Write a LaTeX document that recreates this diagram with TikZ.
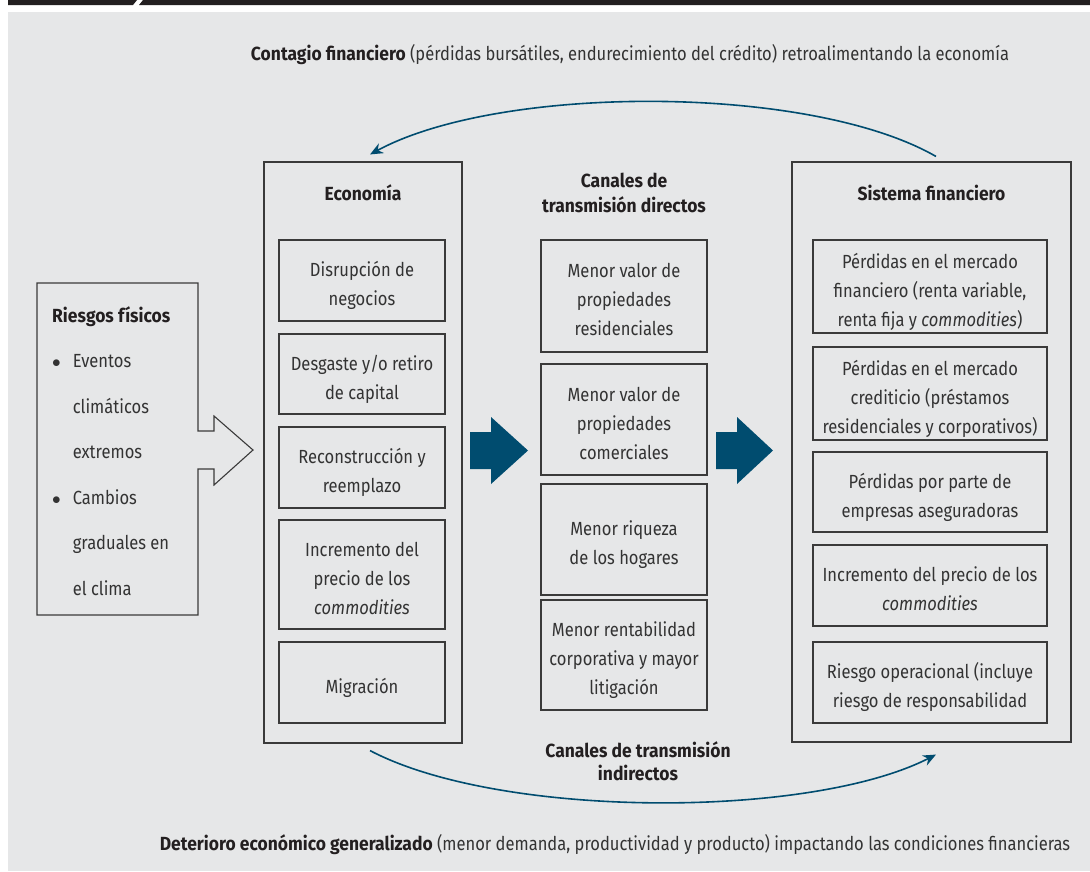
\documentclass[tikz,border=0pt]{standalone}
\usepackage{fontspec}
\setmainfont{Fira Sans}[FakeStretch=0.87,BoldFeatures={FakeStretch=0.92}]
\usetikzlibrary{arrows.meta}
\definecolor{fondo}{HTML}{E6E7E8}
\definecolor{azul}{HTML}{004C6F}
\definecolor{linea}{HTML}{3A3A3A}
\definecolor{texto}{HTML}{333333}
\definecolor{barra}{HTML}{231F20}
\newcommand{\alto}{\rule{0pt}{26pt}}
\newcommand{\bajo}{\rule[-5pt]{0pt}{5pt}}

\begin{document}
\begin{tikzpicture}[x=1pt,y=-1pt,
    caja/.style={draw=linea,line width=1.1pt,inner sep=0pt},
    cajita/.style={caja,text=texto,align=center,font=\fontsize{19}{29}\selectfont},
    titulo/.style={font=\bfseries\fontsize{19}{25}\selectfont,text=barra,align=center},
    curva/.style={azul,line width=1.6pt,-{Stealth[length=13pt,width=11pt]}}]
\useasboundingbox (0,0) rectangle (1090,871);
% fondo y barra superior
\fill[fondo] (8,12) rectangle (1090,871);
\fill[barra] (8,0)--(137,0)--(133,5)--(8,5)--cycle;
\fill[barra] (143,0)--(1090,0)--(1090,5)--(139,5)--cycle;
% riesgos fisicos
\draw[linea,line width=1.1pt] (37,283)--(198,283)--(198,431)--(214,431)--(214,416)--(253,450)--(214,485)--(214,469)--(198,469)--(198,615)--(37,615)--cycle;
\node[anchor=base west,inner sep=0pt,text=texto,font=\fontsize{19}{45.5}\selectfont] (riesgos) at (52,322)
  {\begin{tabular}[t]{@{}l@{\hspace{12pt}}l@{}}
   \multicolumn{2}{@{}l}{\textcolor{barra}{\bfseries Riesgos físicos}}\\
   $\bullet$ & Eventos\\ & climáticos\\ & extremos\\
   $\bullet$ & Cambios\\ & graduales en\\ & el clima
   \end{tabular}};
% economia
\node[caja,minimum width=198,minimum height=581] (eco) at (363,452.5) {};
\node[titulo] (ecotit) at (363,193) {Economía};
\node[cajita,minimum width=166,minimum height=81] (eco1) at (362,280.5) {\alto Disrupción de\\negocios\bajo};
\node[cajita,minimum width=166,minimum height=80] (eco2) at (362,374) {\alto Desgaste y/o retiro\\de capital\bajo};
\node[cajita,minimum width=166,minimum height=81] (eco3) at (362,467.5) {\alto Reconstrucción y\\reemplazo\bajo};
\node[cajita,minimum width=166,minimum height=109] (eco4) at (362,574.5) {\alto Incremento del\\precio de los\\\textit{commodities}\bajo};
\node[cajita,minimum width=166,minimum height=81] (eco5) at (362,682.5) {\alto Migración\bajo};
% canales directos
\node[titulo] (cantit) at (624,192.5) {Canales de\\transmisión directos};
\node[cajita,minimum width=166,minimum height=112] (can1) at (624,296) {\alto Menor valor de\\propiedades\\residenciales\bajo};
\node[cajita,minimum width=166,minimum height=111] (can2) at (624,419.5) {\alto Menor valor de\\propiedades\\comerciales\bajo};
\node[cajita,minimum width=166,minimum height=111] (can3) at (624,539.5) {\alto Menor riqueza\\de los hogares\bajo};
\node[cajita,minimum width=166,minimum height=110] (can4) at (624,655) {\alto Menor rentabilidad\\corporativa y mayor\\litigación\bajo};
\fill[azul] (470,432)--(491,432)--(491,417)--(528,450.5)--(491,484)--(491,469)--(470,469)--cycle;
\fill[azul] (716,432)--(737,432)--(737,417)--(773,450.5)--(737,484)--(737,469)--(716,469)--cycle;
% sistema financiero
\node[caja,minimum width=279,minimum height=580] (sis) at (931.5,452) {};
\node[titulo] (sistit) at (931.5,193) {Sistema financiero};
\node[cajita,minimum width=234,minimum height=93] (sis1) at (930,286.5) {\alto Pérdidas en el mercado\\financiero (renta variable,\\renta fija y \textit{commodities})\bajo};
\node[cajita,minimum width=234,minimum height=93] (sis2) at (930,393.5) {\alto Pérdidas en el mercado\\crediticio (préstamos\\residenciales y corporativos)\bajo};
\node[cajita,minimum width=234,minimum height=80] (sis3) at (930,492) {\alto Pérdidas por parte de\\empresas aseguradoras\bajo};
\node[cajita,minimum width=234,minimum height=81] (sis4) at (930,585.5) {\alto Incremento del precio de los\\\textit{commodities}\bajo};
\node[cajita,minimum width=234,minimum height=81] (sis5) at (930,682.5) {\alto Riesgo operacional (incluye\\riesgo de responsabilidad\bajo};
% canales indirectos
\node[titulo,font=\bfseries\fontsize{19}{23}\selectfont] (indtit) at (638,761.5) {Canales de transmisión\\indirectos};
\draw[curva] ([xshift=4.5,yshift=5]sis.north) .. controls (810,84) and (500,84) .. ([xshift=7,yshift=7]eco.north);
\draw[curva] ([xshift=7,yshift=-7]eco.south) .. controls (500,819) and (810,819) .. ([xshift=4.5,yshift=-12]sis.south);
% textos de retroalimentacion
\node[text=texto,font=\fontsize{19}{20}\selectfont] (contagio) at (630,55) {\textcolor{barra}{\bfseries Contagio financiero} (pérdidas bursátiles, endurecimiento del crédito) retroalimentando la economía};
\node[text=texto,font=\fontsize{19}{20}\selectfont] (deterioro) at (615,845) {\textcolor{barra}{\bfseries Deterioro económico generalizado} (menor demanda, productividad y producto) impactando las condiciones financieras};
\end{tikzpicture}
\end{document}
